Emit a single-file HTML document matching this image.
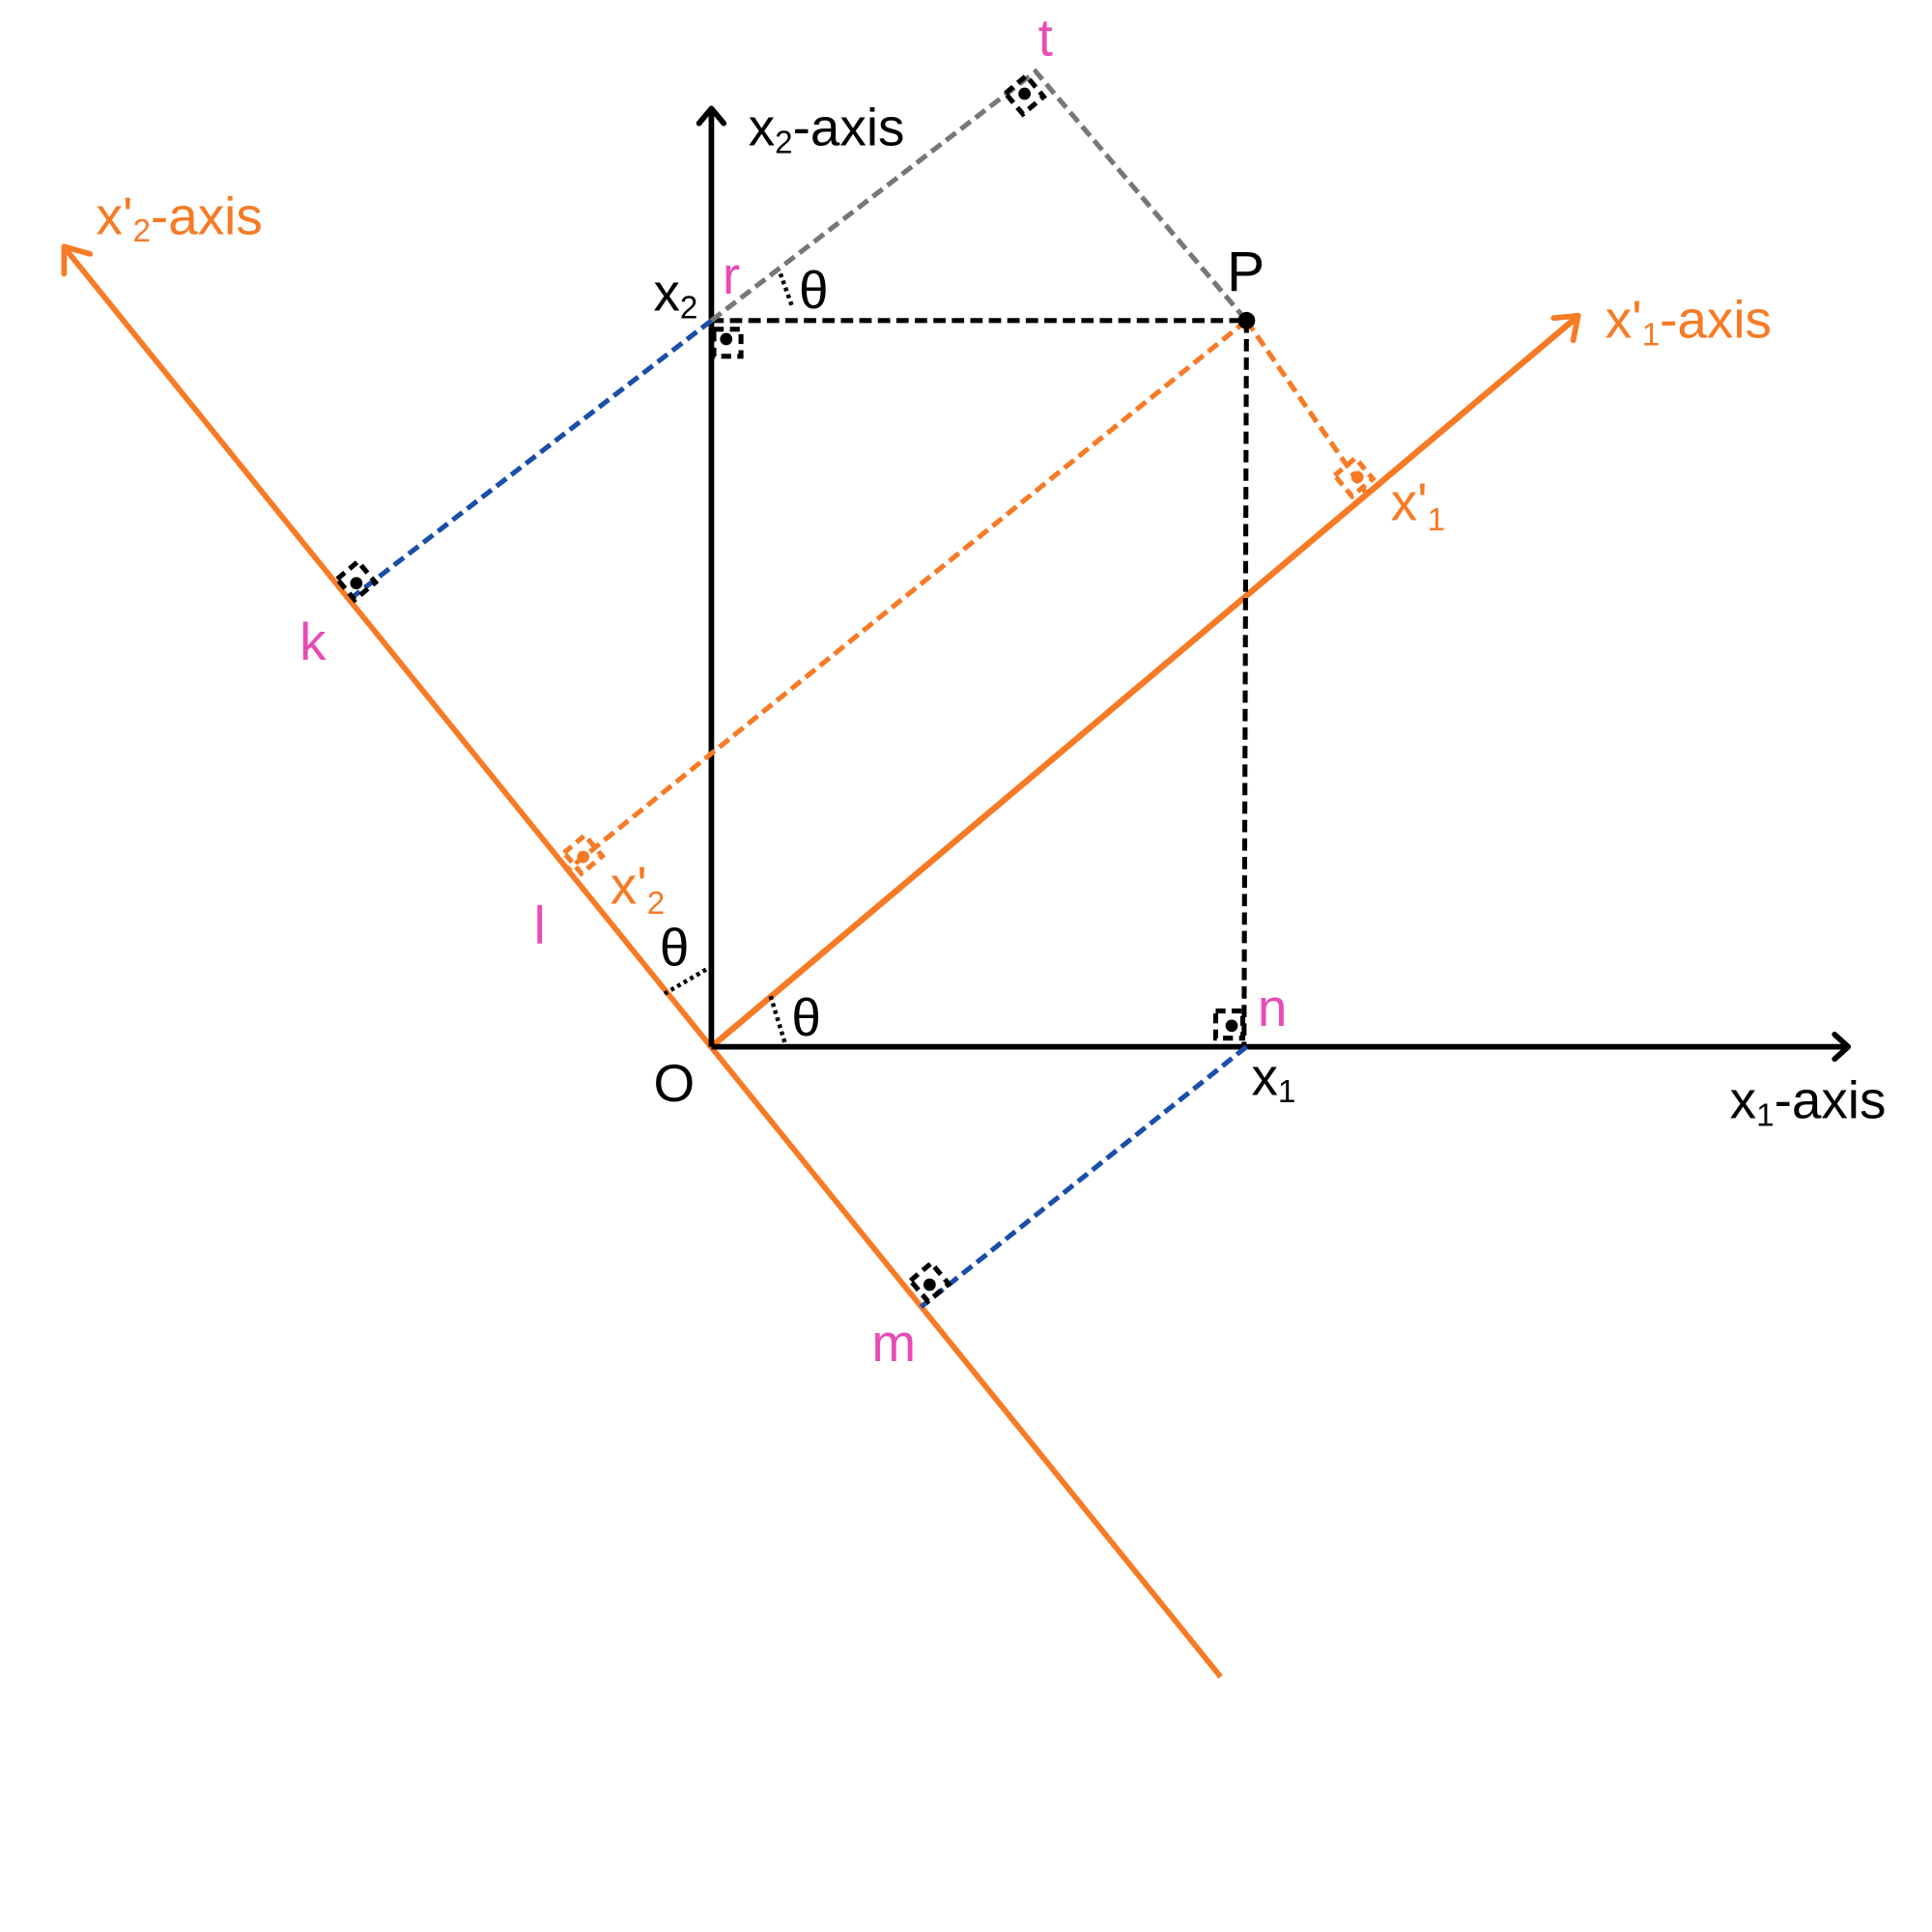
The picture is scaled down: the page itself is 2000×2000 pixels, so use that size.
<!DOCTYPE html>
<html><head><meta charset="utf-8"><style>html,body{margin:0;padding:0;background:#fff}svg{display:block}</style></head>
<body>
<svg width="2000" height="2000" viewBox="0 0 1567 1567" xmlns="http://www.w3.org/2000/svg" font-family="Liberation Sans, sans-serif">
<rect width="1567" height="1567" fill="#fff"/>
<line x1="990" y1="1360" x2="54" y2="203" stroke="#f77a25" stroke-width="4.5"/>
<polyline points="52,222 52,200 73,206" fill="none" stroke="#f77a25" stroke-width="4.5" stroke-linecap="round" stroke-linejoin="round"/>
<line x1="577" y1="849" x2="1278" y2="258" stroke="#f77a25" stroke-width="5"/>
<polyline points="1260,258 1280,256 1276,276" fill="none" stroke="#f77a25" stroke-width="4.5" stroke-linecap="round" stroke-linejoin="round"/>
<line x1="577" y1="849" x2="1499" y2="849" stroke="#000" stroke-width="4.5"/>
<polyline points="1488,839 1499,849 1488,859" fill="none" stroke="#000" stroke-width="4.5" stroke-linecap="round" stroke-linejoin="round"/>
<line x1="577" y1="849" x2="577" y2="89" stroke="#000" stroke-width="4.5"/>
<polyline points="567,100 577,88 587,100" fill="none" stroke="#000" stroke-width="4.5" stroke-linecap="round" stroke-linejoin="round"/>
<g fill="none" stroke-width="4" stroke-dasharray="10 5">
<line x1="577" y1="260" x2="1011" y2="260" stroke="#000"/>
<line x1="1011" y1="260" x2="1009" y2="849" stroke="#000"/>
<polyline points="577,260 840,58 1011,260" stroke="#777"/>
<line x1="577" y1="260" x2="285" y2="485" stroke="#1a4fa8"/>
<line x1="1011" y1="849" x2="747" y2="1060" stroke="#1a4fa8"/>
<line x1="1011" y1="260" x2="461" y2="705" stroke="#f77a25"/>
<line x1="1011" y1="260" x2="1108" y2="400" stroke="#f77a25"/>
</g>
<g fill="none" stroke="#000" stroke-width="3.5" stroke-dasharray="3 3">
<line x1="633" y1="222" x2="643" y2="250"/>
<line x1="539" y1="806" x2="575" y2="785"/>
<line x1="625" y1="808" x2="637" y2="847"/>
</g>
<g stroke-width="4" stroke-dasharray="8 5" fill="none">
<rect x="-11" y="-11" width="22" height="22" stroke="#000" transform="translate(831,77) rotate(-40)"/>
<rect x="-11" y="-11" width="22" height="22" stroke="#000" transform="translate(590,278)"/>
<rect x="-11" y="-11" width="22" height="22" stroke="#000" transform="translate(997,831)"/>
<rect x="-11" y="-11" width="22" height="22" stroke="#000" transform="translate(289,471) rotate(-40)"/>
<rect x="-11" y="-11" width="22" height="22" stroke="#000" transform="translate(754,1040) rotate(-40)"/>
<rect x="-11" y="-11" width="22" height="22" stroke="#f77a25" transform="translate(473,693) rotate(-40)"/>
<rect x="-11" y="-11" width="22" height="22" stroke="#f77a25" transform="translate(1098,387) rotate(-40)"/>
</g>
<g fill="#000">
<circle cx="831" cy="76" r="5"/><circle cx="589" cy="275" r="5"/><circle cx="999" cy="832" r="5"/>
<circle cx="289" cy="473" r="5"/><circle cx="754" cy="1042" r="5"/><circle cx="1011" cy="260" r="7"/>
</g>
<circle cx="473" cy="695" r="5" fill="#f77a25"/><circle cx="1101" cy="387" r="5" fill="#f77a25"/>
<g font-size="43">
<text x="842" y="45" fill="#e84bb5">t</text>
<text x="607" y="118" fill="#000">x<tspan font-size="26" dy="6">2</tspan><tspan dy="-6">-axis</tspan></text>
<text x="78" y="190" fill="#f77a25">x'<tspan font-size="26" dy="6">2</tspan><tspan dy="-6">-axis</tspan></text>
<text x="586" y="238" fill="#e84bb5">r</text>
<text x="530" y="252" fill="#000">x<tspan font-size="26" dy="6">2</tspan></text>
<text x="648" y="250" fill="#000">θ</text>
<text x="995" y="236" fill="#000" font-size="46">P</text>
<text x="1302" y="274" fill="#f77a25">x'<tspan font-size="26" dy="6">1</tspan><tspan dy="-6">-axis</tspan></text>
<text x="1128" y="422" fill="#f77a25">x'<tspan font-size="26" dy="8">1</tspan></text>
<text x="243" y="535" fill="#e84bb5">k</text>
<text x="433" y="765" fill="#e84bb5">l</text>
<text x="495" y="733" fill="#f77a25">x'<tspan font-size="26" dy="8">2</tspan></text>
<text x="535" y="783" fill="#000">θ</text>
<text x="642" y="840" fill="#000">θ</text>
<text x="1020" y="832" fill="#e84bb5">n</text>
<text x="530" y="893" fill="#000">O</text>
<text x="1015" y="888" fill="#000">x<tspan font-size="26" dy="6">1</tspan></text>
<text x="1403" y="907" fill="#000">x<tspan font-size="26" dy="6">1</tspan><tspan dy="-6">-axis</tspan></text>
<text x="707" y="1104" fill="#e84bb5">m</text>
</g>
</svg>
</body></html>
